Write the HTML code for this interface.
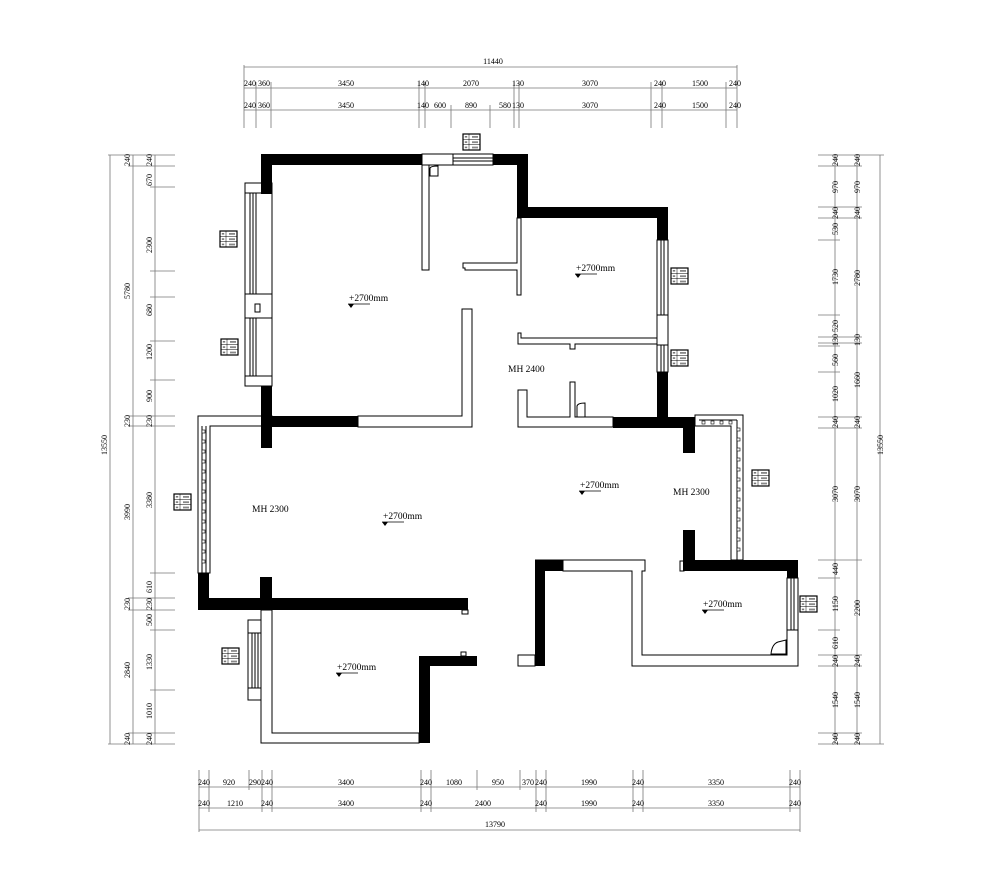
<!DOCTYPE html>
<html><head><meta charset="utf-8"><style>
html,body{margin:0;padding:0;background:#fff}
svg{display:block}
text{font-family:"Liberation Serif",serif;fill:#000}
.d{font-size:8px}
.l{font-size:9.5px}
</style></head><body>
<svg width="1000" height="890" viewBox="0 0 1000 890" xmlns="http://www.w3.org/2000/svg">
<defs>
<g id="tag"><rect x="0" y="0" width="17" height="16" fill="#fff" stroke="#000" stroke-width="1.2"/><line x1="0" y1="5.3" x2="17" y2="5.3" stroke="#000" stroke-width=".5"/><line x1="0" y1="10.6" x2="17" y2="10.6" stroke="#000" stroke-width=".5"/><line x1="6" y1="0" x2="6" y2="16" stroke="#000" stroke-width=".5"/><rect x="1.8" y="2" width="2.4" height="1.6" fill="#777"/><rect x="1.8" y="7.3" width="2.4" height="1.6" fill="#777"/><rect x="1.8" y="12.6" width="2.4" height="1.6" fill="#777"/><rect x="9" y="2" width="6" height="1.8" fill="#888"/><rect x="9" y="7.3" width="6" height="1.8" fill="#888"/><rect x="9" y="12.6" width="6" height="1.8" fill="#888"/></g>
<g id="lvl"><path d="M0,0 L6,0 L3,4 Z" fill="#000"/><line x1="0" y1="0" x2="22" y2="0" stroke="#000" stroke-width=".7"/></g>
</defs>

<g stroke="#777" stroke-width=".8" fill="none">
<line x1="244" y1="67" x2="737" y2="67"/>
<line x1="244" y1="88" x2="737" y2="88"/>
<line x1="244" y1="110" x2="737" y2="110"/>
<line x1="244" y1="65" x2="244" y2="128"/><line x1="737" y1="65" x2="737" y2="128"/>
<line x1="256" y1="82" x2="256" y2="128"/><line x1="271" y1="82" x2="271" y2="128"/>
<line x1="419" y1="82" x2="419" y2="128"/><line x1="425" y1="82" x2="425" y2="128"/>
<line x1="451" y1="105" x2="451" y2="128"/><line x1="490" y1="105" x2="490" y2="128"/>
<line x1="514" y1="82" x2="514" y2="128"/><line x1="519" y1="82" x2="519" y2="128"/>
<line x1="651" y1="82" x2="651" y2="128"/><line x1="662" y1="82" x2="662" y2="128"/>
<line x1="726" y1="82" x2="726" y2="128"/>
</g>
<g class="d" text-anchor="middle">
<text x="493" y="64">11440</text>
<text x="250" y="86">240</text><text x="264" y="86">360</text><text x="346" y="86">3450</text><text x="423" y="86">140</text><text x="471" y="86">2070</text><text x="518" y="86">130</text><text x="590" y="86">3070</text><text x="660" y="86">240</text><text x="700" y="86">1500</text><text x="735" y="86">240</text>
<text x="250" y="108">240</text><text x="264" y="108">360</text><text x="346" y="108">3450</text><text x="423" y="108">140</text><text x="440" y="108">600</text><text x="471" y="108">890</text><text x="505" y="108">580</text><text x="518" y="108">130</text><text x="590" y="108">3070</text><text x="660" y="108">240</text><text x="700" y="108">1500</text><text x="735" y="108">240</text>
</g>

<g stroke="#777" stroke-width=".8" fill="none">
<line x1="110" y1="155" x2="110" y2="744"/>
<line x1="133" y1="155" x2="133" y2="744"/>
<line x1="155" y1="155" x2="155" y2="744"/>
<line x1="108" y1="155" x2="175" y2="155"/><line x1="108" y1="744" x2="175" y2="744"/>
<line x1="128" y1="166" x2="175" y2="166"/>
<line x1="150" y1="187" x2="175" y2="187"/><line x1="150" y1="271" x2="175" y2="271"/><line x1="150" y1="297" x2="175" y2="297"/><line x1="150" y1="341" x2="175" y2="341"/><line x1="150" y1="380" x2="175" y2="380"/>
<line x1="128" y1="416" x2="175" y2="416"/><line x1="128" y1="426" x2="175" y2="426"/>
<line x1="150" y1="573" x2="175" y2="573"/>
<line x1="128" y1="598" x2="175" y2="598"/><line x1="128" y1="610" x2="175" y2="610"/>
<line x1="150" y1="630" x2="175" y2="630"/><line x1="150" y1="690" x2="175" y2="690"/>
<line x1="128" y1="733" x2="175" y2="733"/>
</g>
<g class="d" text-anchor="middle">
<text transform="translate(107,445) rotate(-90)">13550</text>
<text transform="translate(130,160) rotate(-90)">240</text><text transform="translate(130,291) rotate(-90)">5780</text><text transform="translate(130,421) rotate(-90)">230</text><text transform="translate(130,512) rotate(-90)">3990</text><text transform="translate(130,604) rotate(-90)">230</text><text transform="translate(130,670) rotate(-90)">2840</text><text transform="translate(130,739) rotate(-90)">240</text>
<text transform="translate(152,160) rotate(-90)">240</text><text transform="translate(152,180) rotate(-90)">670</text><text transform="translate(152,245) rotate(-90)">2300</text><text transform="translate(152,310) rotate(-90)">680</text><text transform="translate(152,352) rotate(-90)">1200</text><text transform="translate(152,396) rotate(-90)">900</text><text transform="translate(152,421) rotate(-90)">230</text><text transform="translate(152,500) rotate(-90)">3380</text><text transform="translate(152,587) rotate(-90)">610</text><text transform="translate(152,604) rotate(-90)">230</text><text transform="translate(152,620) rotate(-90)">500</text><text transform="translate(152,662) rotate(-90)">1330</text><text transform="translate(152,711) rotate(-90)">1010</text><text transform="translate(152,739) rotate(-90)">240</text>
</g>

<g stroke="#777" stroke-width=".8" fill="none">
<line x1="835" y1="155" x2="835" y2="744"/>
<line x1="857" y1="155" x2="857" y2="744"/>
<line x1="880" y1="155" x2="880" y2="744"/>
<line x1="818" y1="155" x2="884" y2="155"/><line x1="818" y1="744" x2="884" y2="744"/>
<line x1="818" y1="166" x2="862" y2="166"/><line x1="818" y1="207" x2="862" y2="207"/><line x1="818" y1="218" x2="862" y2="218"/>
<line x1="818" y1="240" x2="840" y2="240"/><line x1="818" y1="315" x2="840" y2="315"/>
<line x1="818" y1="337" x2="862" y2="337"/><line x1="818" y1="343" x2="862" y2="343"/><line x1="818" y1="346" x2="840" y2="346"/><line x1="818" y1="372" x2="840" y2="372"/>
<line x1="818" y1="417" x2="862" y2="417"/><line x1="818" y1="428" x2="862" y2="428"/>
<line x1="818" y1="560" x2="862" y2="560"/><line x1="818" y1="578" x2="840" y2="578"/><line x1="818" y1="630" x2="840" y2="630"/>
<line x1="818" y1="655" x2="862" y2="655"/><line x1="818" y1="666" x2="862" y2="666"/><line x1="818" y1="733" x2="862" y2="733"/>
</g>
<g class="d" text-anchor="middle">
<text transform="translate(838,160) rotate(-90)">240</text><text transform="translate(838,187) rotate(-90)">970</text><text transform="translate(838,213) rotate(-90)">240</text><text transform="translate(838,229) rotate(-90)">530</text><text transform="translate(838,277) rotate(-90)">1730</text><text transform="translate(838,326) rotate(-90)">520</text><text transform="translate(838,340) rotate(-90)">130</text><text transform="translate(838,360) rotate(-90)">560</text><text transform="translate(838,394) rotate(-90)">1020</text><text transform="translate(838,422) rotate(-90)">240</text><text transform="translate(838,494) rotate(-90)">3070</text><text transform="translate(838,569) rotate(-90)">440</text><text transform="translate(838,604) rotate(-90)">1150</text><text transform="translate(838,643) rotate(-90)">610</text><text transform="translate(838,661) rotate(-90)">240</text><text transform="translate(838,700) rotate(-90)">1540</text><text transform="translate(838,739) rotate(-90)">240</text>
<text transform="translate(860,160) rotate(-90)">240</text><text transform="translate(860,187) rotate(-90)">970</text><text transform="translate(860,213) rotate(-90)">240</text><text transform="translate(860,278) rotate(-90)">2780</text><text transform="translate(860,340) rotate(-90)">130</text><text transform="translate(860,380) rotate(-90)">1660</text><text transform="translate(860,422) rotate(-90)">240</text><text transform="translate(860,494) rotate(-90)">3070</text><text transform="translate(860,608) rotate(-90)">2200</text><text transform="translate(860,661) rotate(-90)">240</text><text transform="translate(860,700) rotate(-90)">1540</text><text transform="translate(860,739) rotate(-90)">240</text>
<text transform="translate(883,445) rotate(-90)">13550</text>
</g>

<g stroke="#777" stroke-width=".8" fill="none">
<line x1="199" y1="787" x2="800" y2="787"/>
<line x1="199" y1="808" x2="800" y2="808"/>
<line x1="199" y1="830" x2="800" y2="830"/>
<line x1="199" y1="770" x2="199" y2="832"/><line x1="800" y1="770" x2="800" y2="832"/>
<line x1="209" y1="770" x2="209" y2="812"/><line x1="249" y1="770" x2="249" y2="790"/><line x1="262" y1="770" x2="262" y2="812"/><line x1="272" y1="770" x2="272" y2="812"/>
<line x1="421" y1="770" x2="421" y2="812"/><line x1="431" y1="770" x2="431" y2="812"/><line x1="477" y1="770" x2="477" y2="790"/><line x1="520" y1="770" x2="520" y2="790"/>
<line x1="536" y1="770" x2="536" y2="812"/><line x1="546" y1="770" x2="546" y2="812"/><line x1="633" y1="770" x2="633" y2="812"/><line x1="643" y1="770" x2="643" y2="812"/><line x1="790" y1="770" x2="790" y2="812"/>
</g>
<g class="d" text-anchor="middle">
<text x="204" y="785">240</text><text x="229" y="785">920</text><text x="255" y="785">290</text><text x="267" y="785">240</text><text x="346" y="785">3400</text><text x="426" y="785">240</text><text x="454" y="785">1080</text><text x="498" y="785">950</text><text x="528" y="785">370</text><text x="541" y="785">240</text><text x="589" y="785">1990</text><text x="638" y="785">240</text><text x="716" y="785">3350</text><text x="795" y="785">240</text>
<text x="204" y="806">240</text><text x="235" y="806">1210</text><text x="267" y="806">240</text><text x="346" y="806">3400</text><text x="426" y="806">240</text><text x="483" y="806">2400</text><text x="541" y="806">240</text><text x="589" y="806">1990</text><text x="638" y="806">240</text><text x="716" y="806">3350</text><text x="795" y="806">240</text>
<text x="495" y="827">13790</text>
</g>

<g fill="#fff" stroke="#000" stroke-width="1">
<rect x="422" y="154" width="31" height="11"/>
<rect x="453" y="154" width="40" height="11"/>
<line x1="453" y1="158" x2="493" y2="158"/><line x1="453" y1="161" x2="493" y2="161"/>
<rect x="245" y="183" width="27" height="203"/>
<rect x="245" y="183" width="27" height="10"/><rect x="245" y="294" width="27" height="24"/><rect x="245" y="376" width="27" height="10"/>
<line x1="250" y1="193" x2="250" y2="294"/><line x1="253" y1="193" x2="253" y2="294"/><line x1="256" y1="193" x2="256" y2="294"/>
<line x1="250" y1="318" x2="250" y2="376"/><line x1="253" y1="318" x2="253" y2="376"/><line x1="256" y1="318" x2="256" y2="376"/>
<rect x="255" y="304" width="5" height="8"/>
<path d="M422,165 L429,165 L429,270 L422,270 Z"/>
<path d="M463,263 L517,263 L517,218 L521,218 L521,295 L517,295 L517,270 L465,270 L465,268 L463,268 Z"/>
<path d="M462,309 L472,309 L472,427 L358,427 L358,416 L462,416 Z"/>
<path d="M518,333 L521,333 L521,338 L657,338 L657,344 L575,344 L575,349 L570,349 L570,344 L521,344 L518,344 Z"/>
<path d="M518,390 L527,390 L527,417 L570,417 L570,382 L575,382 L575,417 L613,417 L613,427 L518,427 Z"/>
<path d="M577,417 L577,406 Q578,403 585,403 L585,417 Z"/>
<path d="M430,176 L430,168 Q431,166 438,166 L438,176 Z"/>
<rect x="657" y="240" width="11" height="75"/><line x1="661" y1="240" x2="661" y2="315"/><line x1="664" y1="240" x2="664" y2="315"/>
<rect x="657" y="315" width="11" height="30"/>
<rect x="657" y="345" width="11" height="27"/><line x1="661" y1="345" x2="661" y2="372"/><line x1="664" y1="345" x2="664" y2="372"/>
<path d="M695,415 L743,415 L743,560 L731,560 L731,426 L695,426 Z"/>
<line x1="699" y1="420" x2="737" y2="420"/><line x1="737" y1="420" x2="737" y2="560"/>
<path d="M535,560 L645,560 L645,571 L642,571 L642,655 L787,655 L787,630 L798,630 L798,666 L632,666 L632,571 L563,571 L563,560 Z"/>
<rect x="787" y="578" width="11" height="52"/><line x1="791" y1="578" x2="791" y2="630"/><line x1="794" y1="578" x2="794" y2="630"/>
<rect x="680" y="561" width="4" height="10"/>
<rect x="518" y="655" width="17" height="11"/>
<path d="M771,654 Q772,644 778,642 L786,640 L786,654 Z"/>
<path d="M198,416 L272,416 L272,426 L210,426 L210,573 L198,573 Z"/>
<line x1="202" y1="426" x2="202" y2="573"/><line x1="206" y1="426" x2="206" y2="573"/>
<rect x="462" y="610" width="6" height="4"/>
<path d="M261,610 L272,610 L272,733 L419,733 L419,743 L261,743 L261,700 L248,700 L248,620 L261,620 Z"/>
<line x1="261" y1="620" x2="261" y2="700"/>
<line x1="248" y1="633" x2="261" y2="633"/><line x1="248" y1="688" x2="261" y2="688"/>
<line x1="252" y1="633" x2="252" y2="688"/><line x1="255" y1="633" x2="255" y2="688"/><line x1="258" y1="633" x2="258" y2="688"/>
<rect x="461" y="652" width="5" height="4"/>
</g>
<g fill="#fff" stroke="#000" stroke-width=".6">
<rect x="202" y="430" width="3" height="3"/><rect x="202" y="440" width="3" height="3"/><rect x="202" y="450" width="3" height="3"/><rect x="202" y="460" width="3" height="3"/><rect x="202" y="470" width="3" height="3"/><rect x="202" y="480" width="3" height="3"/><rect x="202" y="490" width="3" height="3"/><rect x="202" y="500" width="3" height="3"/><rect x="202" y="510" width="3" height="3"/><rect x="202" y="520" width="3" height="3"/><rect x="202" y="530" width="3" height="3"/><rect x="202" y="540" width="3" height="3"/><rect x="202" y="550" width="3" height="3"/><rect x="202" y="560" width="3" height="3"/>
<rect x="737" y="428" width="3" height="3"/><rect x="737" y="438" width="3" height="3"/><rect x="737" y="448" width="3" height="3"/><rect x="737" y="458" width="3" height="3"/><rect x="737" y="468" width="3" height="3"/><rect x="737" y="478" width="3" height="3"/><rect x="737" y="488" width="3" height="3"/><rect x="737" y="498" width="3" height="3"/><rect x="737" y="508" width="3" height="3"/><rect x="737" y="518" width="3" height="3"/><rect x="737" y="528" width="3" height="3"/><rect x="737" y="538" width="3" height="3"/><rect x="737" y="548" width="3" height="3"/>
<rect x="702" y="421" width="3" height="3"/><rect x="711" y="421" width="3" height="3"/><rect x="720" y="421" width="3" height="3"/><rect x="729" y="421" width="3" height="3"/>
</g>

<g fill="#000">
<rect x="261" y="154" width="161" height="11"/>
<rect x="261" y="154" width="11" height="40"/>
<rect x="493" y="154" width="35" height="11"/>
<rect x="517" y="154" width="11" height="64"/>
<rect x="517" y="207" width="151" height="11"/>
<rect x="657" y="207" width="11" height="33"/>
<rect x="657" y="372" width="11" height="56"/>
<rect x="613" y="417" width="82" height="11"/>
<rect x="683" y="417" width="12" height="36"/>
<rect x="683" y="530" width="12" height="41"/>
<rect x="683" y="560" width="115" height="11"/>
<rect x="787" y="560" width="11" height="18"/>
<rect x="535" y="560" width="28" height="11"/>
<rect x="535" y="560" width="10" height="106"/>
<rect x="261" y="386" width="11" height="62"/>
<rect x="272" y="416" width="86" height="11"/>
<rect x="198" y="573" width="11" height="37"/>
<rect x="198" y="598" width="270" height="12"/>
<rect x="260" y="577" width="12" height="33"/>
<rect x="419" y="656" width="11" height="87"/>
<rect x="419" y="656" width="58" height="10"/>
</g>

<use href="#tag" x="220" y="231"/>
<use href="#tag" x="221" y="339"/>
<use href="#tag" x="174" y="494"/>
<use href="#tag" x="463" y="134"/>
<use href="#tag" x="671" y="268"/>
<use href="#tag" x="671" y="350"/>
<use href="#tag" x="752" y="470"/>
<use href="#tag" x="800" y="596"/>
<use href="#tag" x="222" y="648"/>

<g class="l">
<text x="349" y="301">+2700mm</text><use href="#lvl" x="348" y="304"/>
<text x="576" y="271">+2700mm</text><use href="#lvl" x="575" y="274"/>
<text x="383" y="519">+2700mm</text><use href="#lvl" x="382" y="522"/>
<text x="580" y="488">+2700mm</text><use href="#lvl" x="579" y="491"/>
<text x="337" y="670">+2700mm</text><use href="#lvl" x="336" y="673"/>
<text x="703" y="607">+2700mm</text><use href="#lvl" x="702" y="610"/>
<text x="252" y="512">MH 2300</text>
<text x="673" y="495">MH 2300</text>
<text x="508" y="372">MH 2400</text>
</g>
</svg>
</body></html>
